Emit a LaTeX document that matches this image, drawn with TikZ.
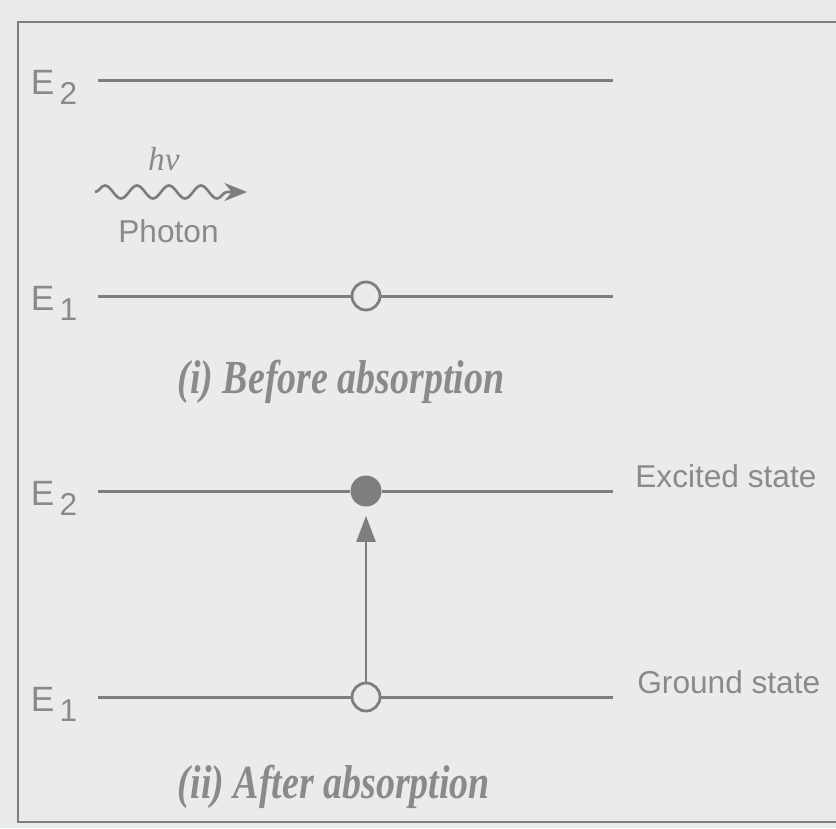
\documentclass[tikz,border=0pt]{standalone}
\usepackage{fontspec}
\setmainfont{Liberation Sans}
\newfontfamily\capfont[FakeStretch=0.8]{Liberation Serif}
\newfontfamily\hvfont{Liberation Serif}
\usepackage{xcolor}
\usepackage{tikz}
\usetikzlibrary{arrows.meta, backgrounds, decorations.pathmorphing}
\definecolor{bgcolor}{HTML}{EAECEC}
\definecolor{inkgray}{HTML}{7E7E7E}
\definecolor{textgray}{HTML}{8A8A8A}
\newcommand{\En}[1]{{\fontsize{20}{22}\selectfont E}\kern3pt\raisebox{-6pt}{\fontsize{18}{18}\selectfont #1}}

\begin{document}
\begin{tikzpicture}[
    show background rectangle,
    background rectangle/.style={fill=bgcolor},
    inner frame sep=0pt,
    level/.style={inkgray, line width=1.7pt},
    emptye/.style={circle, draw=inkgray, line width=1.6pt, minimum size=0.56cm, inner sep=0pt},
    fulle/.style={circle, fill=inkgray, minimum size=0.62cm, inner sep=0pt},
    lbl/.style={text=textgray, font=\fontsize{18}{20}\selectfont, inner sep=0pt},
    caption/.style={text=textgray, font=\capfont\bfseries\itshape\fontsize{27}{30}\selectfont, inner sep=0pt}
]
  \useasboundingbox (0,0) rectangle (16.72,-16.56);

  % Frame of the figure
  \draw[inkgray, line width=0.7pt] (16.72,-0.44) -- (0.36,-0.44) -- (0.36,-16.44) -- (16.72,-16.44);

  % (i) Before absorption: upper level
  \coordinate (a2l) at (1.95,-1.60);
  \coordinate (a2r) at (12.25,-1.60);
  \draw[level] (a2l) -- (a2r);
  \node[lbl, anchor=base east] (a2lab) at (1.55,-1.88) {\En{2}};

  % Incoming photon
  \coordinate (wstart) at (1.90,-3.84);
  \coordinate (wend) at (4.94,-3.84);
  \draw[inkgray, line width=1.5pt, decorate,
    decoration={snake, amplitude=0.13cm, segment length=0.64cm, post length=0.3cm},
    -{Stealth[length=0.45cm, width=0.36cm]}] (wstart) -- (wend);
  \node[lbl, anchor=base, font=\hvfont\itshape\fontsize{19}{21}\selectfont] (hv) at (3.28,-3.40) {hν};
  \node[lbl, anchor=base] (photon) at (3.37,-4.84) {Photon};

  % (i) Before absorption: lower level with the electron
  \coordinate (a1l) at (1.95,-5.92);
  \coordinate (a1r) at (12.25,-5.92);
  \node[emptye] (a1e) at (7.32,-5.92) {};
  \draw[level] (a1l) -- (a1e) -- (a1r);
  \node[lbl, anchor=base east] (a1lab) at (1.55,-6.20) {\En{1}};
  \node[caption, anchor=base] (capa) at (6.82,-7.86) {(i) Before absorption};

  % (ii) After absorption: excited state
  \coordinate (b2l) at (1.95,-9.82);
  \coordinate (b2r) at (12.25,-9.82);
  \node[fulle] (b2e) at (7.32,-9.82) {};
  \draw[level] (b2l) -- (b2e) -- (b2r);
  \node[lbl, anchor=base east] (b2lab) at (1.55,-10.10) {\En{2}};
  \node[lbl, anchor=base west] (excited) at (12.70,-9.74) {Excited state};

  % (ii) After absorption: ground state
  \coordinate (b1l) at (1.95,-13.94);
  \coordinate (b1r) at (12.25,-13.94);
  \node[emptye] (b1e) at (7.32,-13.94) {};
  \draw[level] (b1l) -- (b1e) -- (b1r);
  \node[lbl, anchor=base east] (b1lab) at (1.55,-14.22) {\En{1}};
  \node[lbl, anchor=base west] (ground) at (12.74,-13.86) {Ground state};

  % Transition of the electron
  \draw[inkgray, line width=1.5pt, shorten >=0.18cm,
    -{Triangle[length=0.52cm, width=0.38cm]}] (b1e) -- (b2e);
  \node[caption, anchor=base] (capb) at (6.68,-15.96) {(ii) After absorption};

\end{tikzpicture}
\end{document}
